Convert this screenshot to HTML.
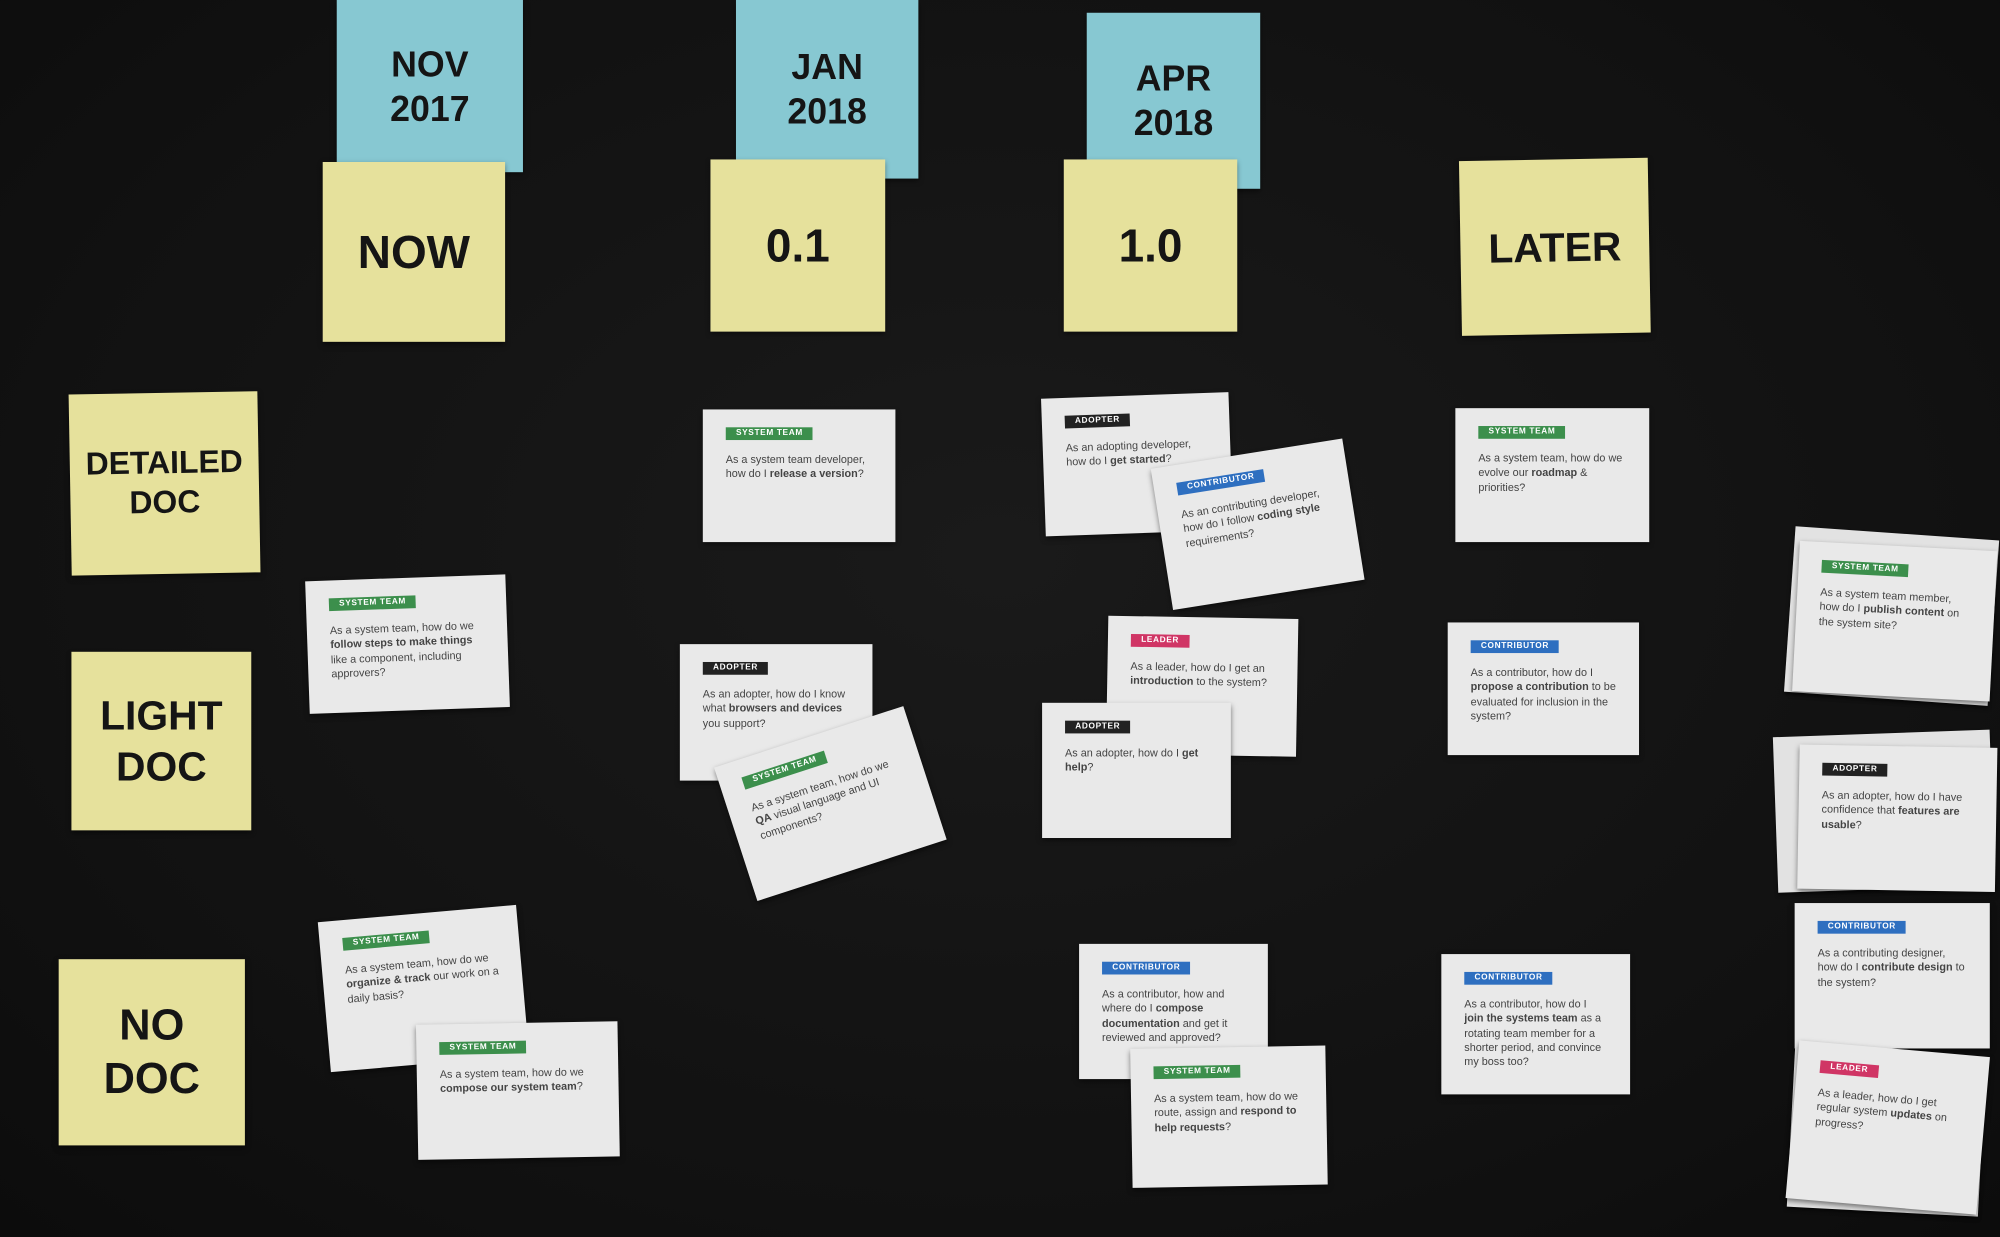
<!DOCTYPE html>
<html><head><meta charset="utf-8"><style>
html,body{margin:0;padding:0;width:2000px;height:1237px;overflow:hidden;background:#131313;}
#w{position:absolute;left:0;top:0;width:1568px;height:970px;transform:scale(1.27551);transform-origin:0 0;background:radial-gradient(ellipse at 50% 45%,#1a1a1a 0%,#111 70%,#0c0c0c 100%);}
.s{position:absolute;display:flex;align-items:center;justify-content:center;text-align:center;font-family:"Liberation Sans",sans-serif;font-weight:bold;color:#151515;line-height:1.25;box-shadow:0 2px 4px rgba(0,0,0,.5);}
.b{background:#87c8d2;font-size:28px;}
.y{background:#e6e19c;font-size:36px;}
.c{position:absolute;background:#e9e9e9;font-family:"Liberation Sans",sans-serif;font-size:8.5px;color:#444;line-height:1.3;box-shadow:0 2px 4px rgba(0,0,0,.5);box-sizing:border-box;padding:12px 18px;}
.c p{margin:10px 0 0 0}
.t{display:inline-block;font-size:6.5px;font-weight:bold;color:#fff;padding:1px 8px;letter-spacing:.5px}
.g{background:#3c8f4c}.k{background:#222}.u{background:#2e6fc0}.r{background:#d03565}
.st{position:absolute;background:#e2e2e2;box-shadow:0 2px 3px rgba(0,0,0,.5)}
</style></head><body><div id="w">
<div class="s b" style="left:264px;top:0;width:146px;height:135px">NOV<br>2017</div>
<div class="s y" style="left:253px;top:127px;width:143px;height:141px">NOW</div>
<div class="s b" style="left:577px;top:0;width:143px;height:140px">JAN<br>2018</div>
<div class="s y" style="left:557px;top:125px;width:137px;height:135px">0.1</div>
<div class="s b" style="left:852px;top:10px;width:136px;height:138px">APR<br>2018</div>
<div class="s y" style="left:834px;top:125px;width:136px;height:135px">1.0</div>
<div class="s y" style="left:1145px;top:125px;width:148px;height:137px;transform:rotate(-1deg);font-size:32px">LATER</div>
<div class="s y" style="left:55px;top:308px;width:148px;height:142px;font-size:25px;transform:rotate(-1deg)">DETAILED<br>DOC</div>
<div class="s y" style="left:56px;top:511px;width:141px;height:140px;font-size:32px">LIGHT<br>DOC</div>
<div class="s y" style="left:46px;top:752px;width:146px;height:146px;font-size:34px">NO<br>DOC</div>

<div class="c" style="left:551px;top:321px;width:151px;height:104px"><span class="t g">SYSTEM TEAM</span><p>As a system team developer, how do I <b>release a version</b>?</p></div>
<div class="c" style="left:818px;top:310px;width:147px;height:108px;transform:rotate(-2deg)"><span class="t k">ADOPTER</span><p>As an adopting developer, how do I <b>get started</b>?</p></div>
<div class="c" style="left:910px;top:355px;width:152px;height:112px;transform:rotate(-9deg)"><span class="t u">CONTRIBUTOR</span><p>As an contributing developer, how do I follow <b>coding style</b> requirements?</p></div>
<div class="c" style="left:1141px;top:320px;width:152px;height:105px"><span class="t g">SYSTEM TEAM</span><p>As a system team, how do we evolve our <b>roadmap</b> &amp; priorities?</p></div>
<div class="c" style="left:241px;top:453px;width:157px;height:104px;transform:rotate(-2deg)"><span class="t g">SYSTEM TEAM</span><p>As a system team, how do we <b>follow steps to make things</b> like a component, including approvers?</p></div>
<div class="c" style="left:533px;top:505px;width:151px;height:107px"><span class="t k">ADOPTER</span><p>As an adopter, how do I know what <b>browsers and devices</b> you support?</p></div>
<div class="c" style="left:573px;top:575px;width:156px;height:110px;transform:rotate(-18deg)"><span class="t g">SYSTEM TEAM</span><p>As a system team, how do we <b>QA</b> visual language and UI components?</p></div>
<div class="c" style="left:868px;top:484px;width:149px;height:108px;transform:rotate(1deg)"><span class="t r">LEADER</span><p>As a leader, how do I get an <b>introduction</b> to the system?</p></div>
<div class="c" style="left:817px;top:551px;width:148px;height:106px"><span class="t k">ADOPTER</span><p>As an adopter, how do I <b>get help</b>?</p></div>
<div class="c" style="left:1135px;top:488px;width:150px;height:104px"><span class="t u">CONTRIBUTOR</span><p>As a contributor, how do I <b>propose a contribution</b> to be evaluated for inclusion in the system?</p></div>
<div class="c" style="left:254px;top:716px;width:156px;height:118px;transform:rotate(-5deg)"><span class="t g">SYSTEM TEAM</span><p>As a system team, how do we <b>organize &amp; track</b> our work on a daily basis?</p></div>
<div class="c" style="left:327px;top:802px;width:158px;height:106px;transform:rotate(-1deg)"><span class="t g">SYSTEM TEAM</span><p>As a system team, how do we <b>compose our system team</b>?</p></div>
<div class="c" style="left:846px;top:740px;width:148px;height:106px"><span class="t u">CONTRIBUTOR</span><p>As a contributor, how and where do I <b>compose documentation</b> and get it reviewed and approved?</p></div>
<div class="c" style="left:887px;top:821px;width:153px;height:109px;transform:rotate(-1deg)"><span class="t g">SYSTEM TEAM</span><p>As a system team, how do we route, assign and <b>respond to help requests</b>?</p></div>
<div class="c" style="left:1130px;top:748px;width:148px;height:110px"><span class="t u">CONTRIBUTOR</span><p>As a contributor, how do I <b>join the systems team</b> as a rotating team member for a shorter period, and convince my boss too?</p></div>

<div class="st" style="left:1403px;top:418px;width:160px;height:130px;transform:rotate(4deg)"></div>
<div class="c" style="left:1408px;top:428px;width:155px;height:118px;transform:rotate(3deg)"><span class="t g">SYSTEM TEAM</span><p>As a system team member, how do I <b>publish content</b> on the system site?</p></div>
<div class="st" style="left:1392px;top:575px;width:170px;height:122px;transform:rotate(-2deg)"></div>
<div class="c" style="left:1410px;top:585px;width:155px;height:113px;transform:rotate(1deg)"><span class="t k">ADOPTER</span><p>As an adopter, how do I have confidence that <b>features are usable</b>?</p></div>
<div class="c" style="left:1407px;top:708px;width:153px;height:114px"><span class="t u">CONTRIBUTOR</span><p>As a contributing designer, how do I <b>contribute design</b> to the system?</p></div>
<div class="st" style="left:1404px;top:825px;width:150px;height:125px;transform:rotate(3deg)"></div>
<div class="c" style="left:1405px;top:822px;width:150px;height:124px;transform:rotate(5deg)"><span class="t r">LEADER</span><p>As a leader, how do I get regular system <b>updates</b> on progress?</p></div>
</div></body></html>
